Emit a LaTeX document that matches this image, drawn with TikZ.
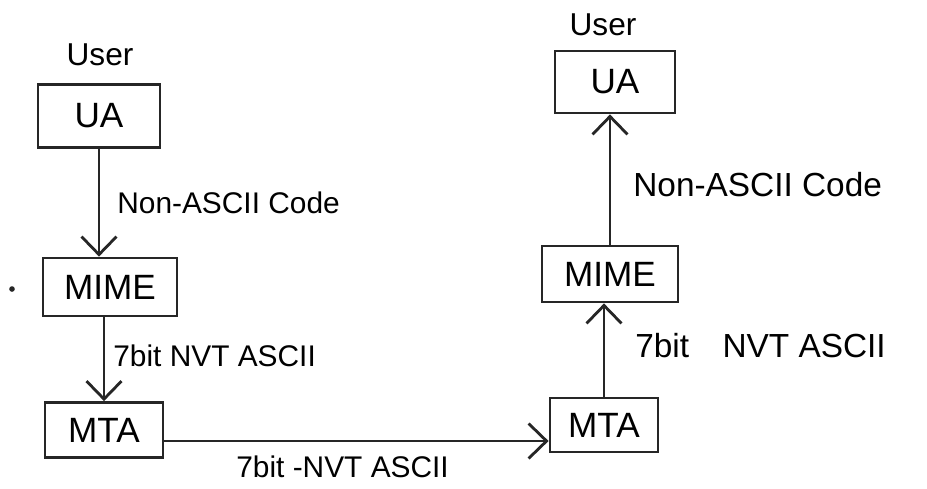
\documentclass[tikz,border=0pt]{standalone}
\usepackage{fontspec}
\setmainfont{Liberation Sans}
\usetikzlibrary{arrows.meta,calc}
\begin{document}
\begin{tikzpicture}[x=0.02cm,y=-0.02cm,
  ink/.style={line width=1.6pt,draw=black!85},
  agent/.style={ink,rectangle,inner sep=0pt,font=\fontsize{20}{24}\selectfont},
  flow/.style={ink,-{Straight Barb[length=3.6mm,width=7mm,line width=1.6pt]}},
  tag/.style={anchor=west,inner sep=0pt,font=\fontsize{17}{20}\selectfont},
  widetag/.style={anchor=west,inner sep=0pt,font=\fontsize{19}{22}\selectfont}]
  \useasboundingbox (0,0) rectangle (927,488);

  % sending side
  \node (userl) at (100,55) {\fontsize{18}{21}\selectfont User};
  \node[agent,minimum width=122*0.02cm,minimum height=63*0.02cm] (ual) at (99,116) {UA};
  \node[agent,minimum width=134*0.02cm,minimum height=58*0.02cm] (mimel) at (110,287) {MIME};
  \node[agent,minimum width=118*0.02cm,minimum height=55*0.02cm] (mtal) at (104,430) {MTA};
  \fill[black!85] (12,289) circle (1.6pt);

  \draw[flow] (ual.south) -- (ual.south |- mimel.north);
  \node[tag] (lbl1) at (117,203) {Non-ASCII Code};
  \draw[flow] (mtal.north |- mimel.south) -- (mtal.north);
  \node[tag] (lbl2) at (113,356) {7bit NVT ASCII};

  % receiving side
  \node (userr) at (603,25) {\fontsize{18}{21}\selectfont User};
  \node[agent,minimum width=120*0.02cm,minimum height=62*0.02cm] (uar) at (615,82) {UA};
  \node[agent,minimum width=136*0.02cm,minimum height=56*0.02cm] (mimer) at (610,274) {MIME};
  \node[agent,minimum width=108*0.02cm,minimum height=54*0.02cm] (mtar) at (604,425) {MTA};

  \draw[flow] ($(mtal.east)+(0,11)$) -- ($(mtal.east -| mtar.west)+(0,11)$);
  \node[tag] (lbl3) at (236,467) {7bit -NVT ASCII};

  \draw[flow] (mtar.north) -- (mtar.north |- mimer.south);
  \node[widetag] (lbl4) at (635,346) {7bit\quad NVT ASCII};
  \draw[flow] (mimer.north) -- (mimer.north |- uar.south);
  \node[widetag] (lbl5) at (633,185) {Non-ASCII Code};
\end{tikzpicture}
\end{document}
